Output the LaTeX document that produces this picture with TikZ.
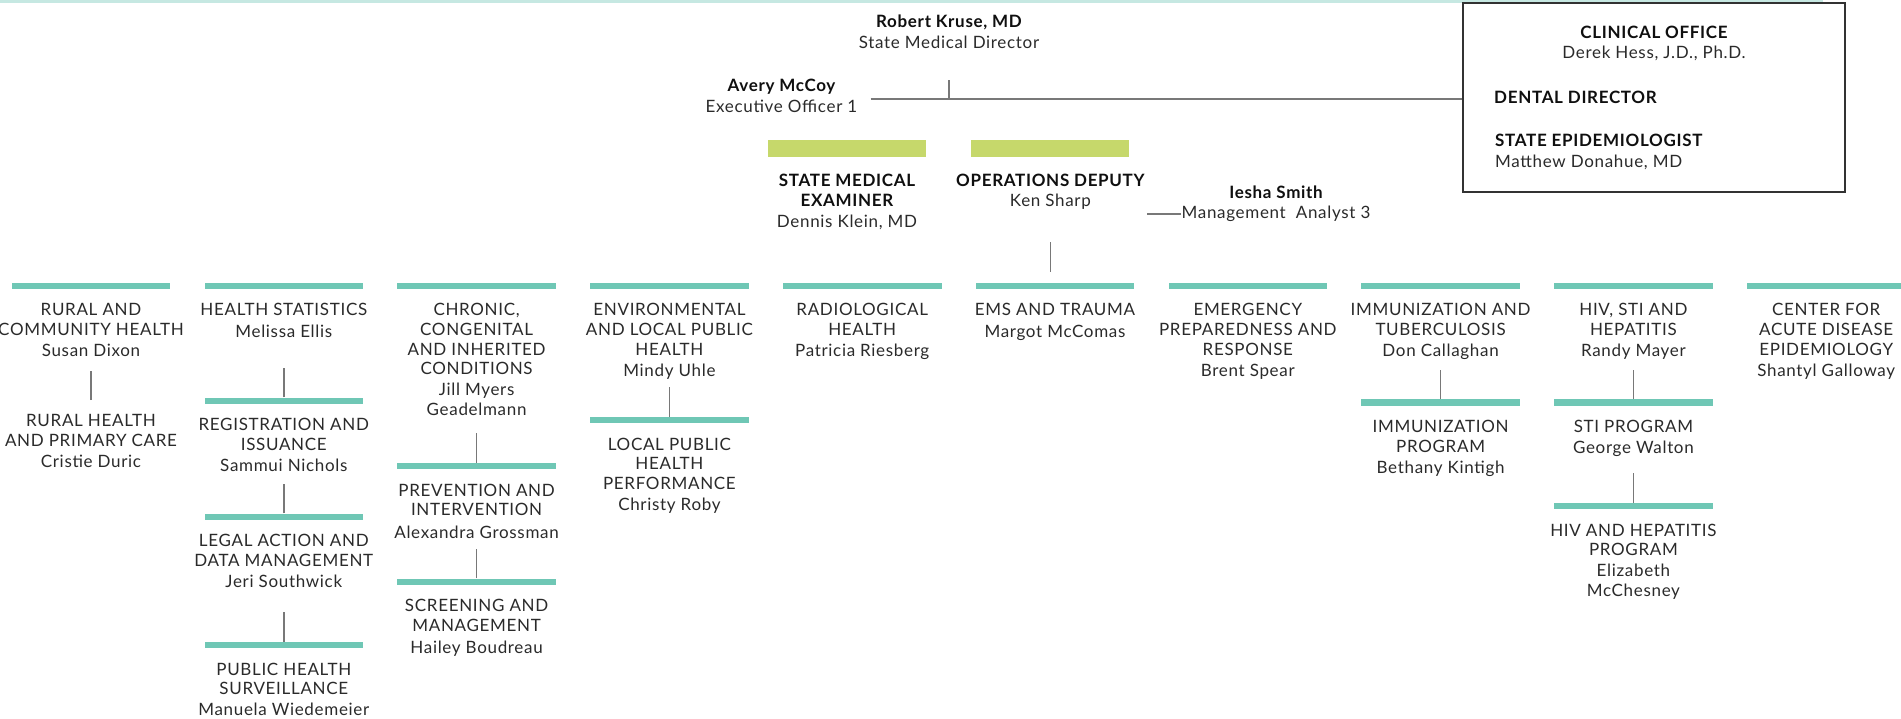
\documentclass[tikz,border=0pt]{standalone}
\usepackage{fontspec}
\setmainfont{Lato}[LetterSpace=4]
\usetikzlibrary{positioning}

\definecolor{bandteal}{RGB}{198,232,226}
\definecolor{barteal}{RGB}{111,199,181}
\definecolor{barlime}{RGB}{198,216,107}
\definecolor{ink}{RGB}{42,42,42}
\definecolor{leadink}{RGB}{15,15,15}
\definecolor{wire}{RGB}{120,120,120}
\definecolor{framegray}{RGB}{50,50,50}

\newcommand\unitfont{\fontsize{17}{19.6}\selectfont}
\newcommand\headfont{\fontsize{17}{20.5}\selectfont}
\newcommand\chief[1]{{\color{leadink}\bfseries #1}}

\begin{document}
\begin{tikzpicture}[x=1pt,y=-1pt,node distance=33.8pt,
                    unitbar/.style={fill=barteal,minimum width=158.6pt,
                                    minimum height=6.5pt,inner sep=0pt},
                    deptbar/.style={fill=barlime,minimum width=158pt,
                                    minimum height=17pt,inner sep=0pt},
                    unit/.style={align=center,inner sep=0pt,text=ink,font=\unitfont},
                    head/.style={align=center,anchor=north,inner sep=0pt,
                                 text=ink,font=\headfont},
                    rule/.style={draw=wire,line width=1.6pt},
                    feed/.style={draw=wire,line width=1.4pt,
                                 to path={(\tikztostart |- \tikztotarget.north)
                                          ++(0,#1) -- ++(0,29.5pt)}},
                    feed/.default=0pt]

  \useasboundingbox (0,0) rectangle (1901,718);
  \fill[bandteal] (0,0) rectangle (1823,3.3);

  % director, executive officer and clinical office
  \node[head] (director) at (949,14.9)  {\chief{Robert Kruse, MD}\\State Medical Director};
  \node[head] (avery)    at (781.5,79.1) {\chief{Avery McCoy}\\Executive Officer 1};
  \node[draw=framegray,line width=2pt,minimum width=382pt,minimum height=189pt]
        (clinbox) at (1654,97.5) {};
  \node[head] (clinical) [below=23.5pt of clinbox.north]
        {\chief{CLINICAL OFFICE}\\Derek Hess, J.D., Ph.D.};
  \node[head] (dental)   [right=32pt of clinbox.west] {\chief{DENTAL DIRECTOR}};
  \node[head,anchor=north west,align=left] (epi) at (1495,134.2)
        {\chief{STATE EPIDEMIOLOGIST}\\Matthew Donahue, MD};

  \coordinate (hub) at (949,98.7);
  \draw[rule,shorten <=13pt] (hub -| avery.east) -- (hub -| clinbox.west);
  \draw[rule,shorten <=31.5pt] (director.south) -- (hub);

  % deputies
  \node[deptbar] (exambar) at (847,148.7) {};
  \node[deptbar] (opsbar)  [right=45pt of exambar] {};
  \node[head] (examiner) [below=16pt of exambar]
        {\chief{STATE MEDICAL}\\\chief{EXAMINER}\\Dennis Klein, MD};
  \node[head] (opsdep)   [below=16pt of opsbar] {\chief{OPERATIONS DEPUTY}\\Ken Sharp};
  \node[head] (iesha)    at (1276,185.6) {\chief{Iesha Smith}\\Management\ \ Analyst 3};
  \coordinate (ieshatap) at ([xshift=-34pt,yshift=-10pt]iesha.west);
  \draw[rule,line width=1.3pt] (ieshatap) -- (ieshatap -| iesha.west);

  % sections
  \node[unitbar] (rchbar)  at (91,286)          {};
  \node[unitbar] (hsbar)   [right=of rchbar]   {};
  \node[unitbar] (ccicbar) [right=of hsbar]    {};
  \node[unitbar] (elphbar) [right=of ccicbar]  {};
  \node[unitbar] (radbar)  [right=of elphbar]  {};
  \node[unitbar] (emsbar)  [right=of radbar]   {};
  \node[unitbar] (eprbar)  [right=of emsbar]   {};
  \node[unitbar] (imtbbar) [right=of eprbar]   {};
  \node[unitbar] (hsthbar) [right=of imtbbar]  {};
  \node[unitbar] (cadebar) [right=of hsthbar]  {};

  \node[unit] (rch)  [below=14pt of rchbar]  {RURAL AND\\COMMUNITY HEALTH\\[1.5pt]Susan Dixon};
  \node[unit] (hs)   [below=14pt of hsbar]   {HEALTH STATISTICS\\[1.5pt]Melissa Ellis};
  \node[unit] (ccic) [below=14pt of ccicbar] {CHRONIC,\\CONGENITAL\\AND INHERITED\\CONDITIONS\\[1.5pt]Jill Myers\\Geadelmann};
  \node[unit] (elph) [below=14pt of elphbar] {ENVIRONMENTAL\\AND LOCAL PUBLIC\\HEALTH\\[1.5pt]Mindy Uhle};
  \node[unit] (rad)  [below=14pt of radbar]  {RADIOLOGICAL\\HEALTH\\[1.5pt]Patricia Riesberg};
  \node[unit] (ems)  [below=14pt of emsbar]  {EMS AND TRAUMA\\[1.5pt]Margot McComas};
  \node[unit] (epr)  [below=14pt of eprbar]  {EMERGENCY\\PREPAREDNESS AND\\RESPONSE\\[1.5pt]Brent Spear};
  \node[unit] (imtb) [below=14pt of imtbbar] {IMMUNIZATION AND\\TUBERCULOSIS\\[1.5pt]Don Callaghan};
  \node[unit] (hsth) [below=14pt of hsthbar] {HIV, STI AND\\HEPATITIS\\[1.5pt]Randy Mayer};
  \node[unit] (cade) [below=14pt of cadebar] {CENTER FOR\\ACUTE DISEASE\\EPIDEMIOLOGY\\[1.5pt]Shantyl Galloway};

  % programs
  \node[unit]    (rhpc)    [below=124.6pt of rchbar]  {RURAL HEALTH\\AND PRIMARY CARE\\[1.5pt]Cristie Duric};
  \node[unitbar] (regbar)  [below=108pt of hsbar]     {};
  \node[unit]    (reg)     [below=14pt of regbar]     {REGISTRATION AND\\ISSUANCE\\[1.5pt]Sammui Nichols};
  \node[unitbar] (ladmbar) [below=109pt of regbar]    {};
  \node[unit]    (ladm)    [below=14pt of ladmbar]    {LEGAL ACTION AND\\DATA MANAGEMENT\\[1.5pt]Jeri Southwick};
  \node[unitbar] (phsbar)  [below=121.5pt of ladmbar] {};
  \node[unit]    (phs)     [below=14pt of phsbar]     {PUBLIC HEALTH\\SURVEILLANCE\\[1.5pt]Manuela Wiedemeier};
  \node[unitbar] (prevbar) [below=173.2pt of ccicbar] {};
  \node[unit]    (prev)    [below=14pt of prevbar]    {PREVENTION AND\\INTERVENTION\\[3pt]Alexandra Grossman};
  \node[unitbar] (scrbar)  [below=108.8pt of prevbar] {};
  \node[unit]    (scr)     [below=14pt of scrbar]     {SCREENING AND\\MANAGEMENT\\[3pt]Hailey Boudreau};
  \node[unitbar] (lphpbar) [below=127.2pt of elphbar] {};
  \node[unit]    (lphp)    [below=14pt of lphpbar]    {LOCAL PUBLIC\\HEALTH\\PERFORMANCE\\[1.5pt]Christy Roby};
  \node[unitbar] (impbar)  [below=109.8pt of imtbbar] {};
  \node[unit]    (imp)     [below=14pt of impbar]     {IMMUNIZATION\\PROGRAM\\[1.5pt]Bethany Kintigh};
  \node[unitbar] (stibar)  [below=109.8pt of hsthbar] {};
  \node[unit]    (sti)     [below=14pt of stibar]     {STI PROGRAM\\[1.5pt]George Walton};
  \node[unitbar] (hhpbar)  [below=96.5pt of stibar]   {};
  \node[unit]    (hhp)     [below=14pt of hhpbar]     {HIV AND HEPATITIS\\PROGRAM\\[1.5pt]Elizabeth\\McChesney};

  \path (opsdep) edge[feed=11pt] (emsbar)
        (rch)    edge[feed=14pt] (rhpc)
        (hs)     edge[feed]      (regbar)
        (reg)    edge[feed]      (ladmbar)
        (ladm)   edge[feed]      (phsbar)
        (ccic)   edge[feed]      (prevbar)
        (prev)   edge[feed]      (scrbar)
        (elph)   edge[feed]      (lphpbar)
        (imtb)   edge[feed]      (impbar)
        (hsth)   edge[feed]      (stibar)
        (sti)    edge[feed]      (hhpbar);
\end{tikzpicture}
\end{document}
